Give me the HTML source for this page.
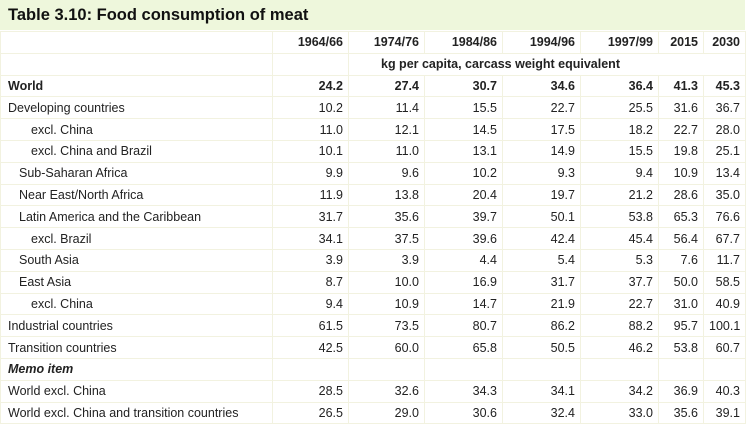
<!DOCTYPE html>
<html><head><meta charset="utf-8"><style>
html,body{margin:0;padding:0;background:#fff;width:750px;height:426px;overflow:hidden}
body{font-family:"Liberation Sans",Arial,sans-serif;color:#222}
.title{position:absolute;left:0;top:0;width:745px;height:30px;background:#eef7dc;font-weight:bold;font-size:16.5px;line-height:30px;padding-left:8px;box-sizing:border-box;color:#111}
table{position:absolute;left:0;top:31px;border-collapse:collapse;table-layout:fixed;width:745px;font-size:12.5px;background:#fff}
td{border:1px solid #f2f2e0;height:20.8px;padding:0 5px;text-align:right;white-space:nowrap;overflow:hidden}
td:first-child{text-align:left;padding-left:7px}
.i1 td:first-child{padding-left:18px}
.i2 td:first-child{padding-left:30px}
.b td{font-weight:bold}
.hd td{font-weight:bold}
.it td{font-weight:bold;font-style:italic}
</style></head><body>
<div class="title">Table 3.10: Food consumption of meat</div>
<table>
<colgroup><col style="width:272px"><col style="width:76px"><col style="width:76px"><col style="width:78px"><col style="width:78px"><col style="width:78px"><col style="width:45px"><col style="width:42px"></colgroup>
<tr class="hd"><td></td><td>1964/66</td><td>1974/76</td><td>1984/86</td><td>1994/96</td><td>1997/99</td><td>2015</td><td>2030</td></tr>
<tr class="hd"><td></td><td></td><td colspan="6" style="text-align:left;padding-left:32px">kg per capita, carcass weight equivalent</td></tr>
<tr class="b"><td>World</td><td>24.2</td><td>27.4</td><td>30.7</td><td>34.6</td><td>36.4</td><td>41.3</td><td>45.3</td></tr>
<tr><td>Developing countries</td><td>10.2</td><td>11.4</td><td>15.5</td><td>22.7</td><td>25.5</td><td>31.6</td><td>36.7</td></tr>
<tr class="i2"><td>excl. China</td><td>11.0</td><td>12.1</td><td>14.5</td><td>17.5</td><td>18.2</td><td>22.7</td><td>28.0</td></tr>
<tr class="i2"><td>excl. China and Brazil</td><td>10.1</td><td>11.0</td><td>13.1</td><td>14.9</td><td>15.5</td><td>19.8</td><td>25.1</td></tr>
<tr class="i1"><td>Sub-Saharan Africa</td><td>9.9</td><td>9.6</td><td>10.2</td><td>9.3</td><td>9.4</td><td>10.9</td><td>13.4</td></tr>
<tr class="i1"><td>Near East/North Africa</td><td>11.9</td><td>13.8</td><td>20.4</td><td>19.7</td><td>21.2</td><td>28.6</td><td>35.0</td></tr>
<tr class="i1"><td>Latin America and the Caribbean</td><td>31.7</td><td>35.6</td><td>39.7</td><td>50.1</td><td>53.8</td><td>65.3</td><td>76.6</td></tr>
<tr class="i2"><td>excl. Brazil</td><td>34.1</td><td>37.5</td><td>39.6</td><td>42.4</td><td>45.4</td><td>56.4</td><td>67.7</td></tr>
<tr class="i1"><td>South Asia</td><td>3.9</td><td>3.9</td><td>4.4</td><td>5.4</td><td>5.3</td><td>7.6</td><td>11.7</td></tr>
<tr class="i1"><td>East Asia</td><td>8.7</td><td>10.0</td><td>16.9</td><td>31.7</td><td>37.7</td><td>50.0</td><td>58.5</td></tr>
<tr class="i2"><td>excl. China</td><td>9.4</td><td>10.9</td><td>14.7</td><td>21.9</td><td>22.7</td><td>31.0</td><td>40.9</td></tr>
<tr><td>Industrial countries</td><td>61.5</td><td>73.5</td><td>80.7</td><td>86.2</td><td>88.2</td><td>95.7</td><td>100.1</td></tr>
<tr><td>Transition countries</td><td>42.5</td><td>60.0</td><td>65.8</td><td>50.5</td><td>46.2</td><td>53.8</td><td>60.7</td></tr>
<tr class="it"><td>Memo item</td><td></td><td></td><td></td><td></td><td></td><td></td><td></td></tr>
<tr><td>World excl. China</td><td>28.5</td><td>32.6</td><td>34.3</td><td>34.1</td><td>34.2</td><td>36.9</td><td>40.3</td></tr>
<tr><td>World excl. China and transition countries</td><td>26.5</td><td>29.0</td><td>30.6</td><td>32.4</td><td>33.0</td><td>35.6</td><td>39.1</td></tr>
</table>
</body></html>
